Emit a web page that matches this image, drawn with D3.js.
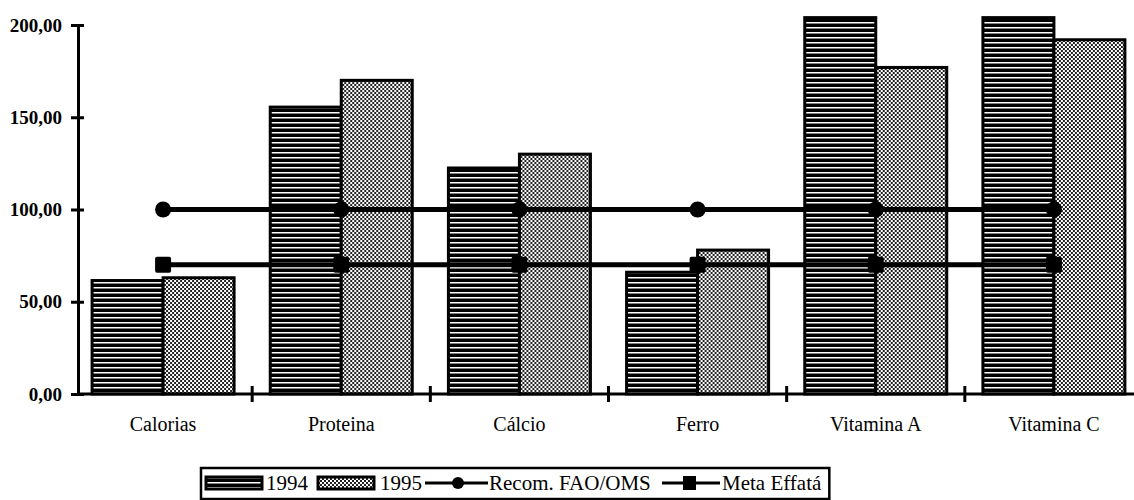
<!DOCTYPE html>
<html>
<head>
<meta charset="utf-8">
<script src="https://cdn.jsdelivr.net/npm/d3@7"></script>
<style>
  html, body { margin: 0; padding: 0; background: #fff; }
  svg { display: block; }
  text { font-family: "Liberation Serif", "Times New Roman", serif; fill: #000; }
</style>
</head>
<body>
<svg id="chart" width="1134" height="500"></svg>
<script>
const categories = ["Calorias", "Proteina", "Cálcio", "Ferro", "Vitamina A", "Vitamina C"];
const values1994 = [61.5, 155.5, 122.5, 66, 204, 204];
const values1995 = [63, 170, 130, 78, 177, 192];
const recomFAO = [100, 100, 100, 100, 100, 100];
const metaEffata = [70, 70, 70, 70, 70, 70];
const yTicks = [0, 50, 100, 150, 200];
const seriesNames = ["1994", "1995"];
const lineNames = ["Recom. FAO/OMS", "Meta Effatá"];

const SERIF = "'Liberation Serif', 'Times New Roman', serif";
const svg = d3.select("#chart");
const defs = svg.append("defs");

// Patterns
const p94 = defs.append("pattern").attr("id", "pat1994")
  .attr("patternUnits", "userSpaceOnUse").attr("width", 8).attr("height", 5);
p94.append("rect").attr("width", 8).attr("height", 5).attr("fill", "#000");
p94.append("rect").attr("y", 2).attr("width", 8).attr("height", 1.5).attr("fill", "#fff");

const p95 = defs.append("pattern").attr("id", "pat1995")
  .attr("patternUnits", "userSpaceOnUse").attr("width", 4).attr("height", 4);
p95.append("rect").attr("width", 4).attr("height", 4).attr("fill", "#fff");
p95.append("rect").attr("x", 0).attr("y", 0).attr("width", 2).attr("height", 2).attr("fill", "#222");
p95.append("rect").attr("x", 2).attr("y", 2).attr("width", 2).attr("height", 2).attr("fill", "#222");

const fills = { "1994": "url(#pat1994)", "1995": "url(#pat1995)" };

const axisX0 = 78;
const y = d3.scaleLinear().domain([0, 200]).range([394, 25]);

const x = d3.scaleBand().domain(categories).range([74, 1143])
  .paddingInner(0.203).paddingOuter(0.1015);
const xs = d3.scaleBand().domain(seriesNames).range([0, x.bandwidth()]);
const step = x.step();
const center = c => x(c) + x.bandwidth() / 2;

const data = categories.map((c, i) => ({
  cat: c,
  vals: [{ s: "1994", v: values1994[i] }, { s: "1995", v: values1995[i] }]
}));

// Bars
const groups = svg.append("g").selectAll("g").data(data).join("g")
  .attr("transform", d => `translate(${x(d.cat)},0)`);
groups.selectAll("rect").data(d => d.vals).join("rect")
  .attr("x", d => xs(d.s))
  .attr("y", d => y(d.v))
  .attr("width", xs.bandwidth())
  .attr("height", d => y(0) - y(d.v))
  .attr("fill", d => fills[d.s])
  .attr("stroke", "#000")
  .attr("stroke-width", 3);

// Y axis
const yAxis = svg.append("g").attr("transform", `translate(${axisX0},0)`)
  .call(d3.axisLeft(y).tickValues(yTicks)
    .tickFormat(d => d3.format(".2f")(d).replace(".", ","))
    .tickSizeInner(7).tickSizeOuter(0).tickPadding(9));
yAxis.attr("font-family", SERIF);
yAxis.select(".domain").attr("stroke", "#000").attr("stroke-width", 3);
yAxis.selectAll(".tick line").attr("x1", 6).attr("x2", -7).attr("stroke-width", 3);
yAxis.selectAll(".tick text")
  .attr("font-family", SERIF)
  .style("font-size", "19px").style("font-weight", "bold");

// X axis
const xAxis = svg.append("g").attr("transform", `translate(0,${y(0)})`)
  .call(d3.axisBottom(x).tickSize(0).tickPadding(23));
xAxis.attr("font-family", SERIF);
xAxis.select(".domain").remove();
xAxis.append("line").attr("x1", axisX0).attr("x2", 1134).attr("y1", 0).attr("y2", 0)
  .attr("stroke", "#000").attr("stroke-width", 3);
xAxis.selectAll(".sep").data(categories.slice(1)).join("line")
  .attr("class", "sep")
  .attr("x1", d => x(d) - step * x.paddingInner() / 2)
  .attr("x2", d => x(d) - step * x.paddingInner() / 2)
  .attr("y1", -8).attr("y2", 8)
  .attr("stroke", "#000").attr("stroke-width", 3);
xAxis.selectAll(".tick text")
  .attr("font-family", SERIF)
  .style("font-size", "20px");

// Lines
const line = d3.line().x((d, i) => center(categories[i])).y(d => y(d));
svg.append("path").datum(recomFAO).attr("d", line)
  .attr("fill", "none").attr("stroke", "#000").attr("stroke-width", 5);
svg.append("path").datum(metaEffata).attr("d", line)
  .attr("fill", "none").attr("stroke", "#000").attr("stroke-width", 5);
svg.append("g").selectAll("circle").data(recomFAO).join("circle")
  .attr("cx", (d, i) => center(categories[i])).attr("cy", d => y(d)).attr("r", 8)
  .attr("fill", "#000");
svg.append("g").selectAll("rect").data(metaEffata).join("rect")
  .attr("x", (d, i) => center(categories[i]) - 8).attr("y", d => y(d) - 8)
  .attr("width", 16).attr("height", 16).attr("rx", 2).attr("fill", "#000");

// Legend
const leg = svg.append("g").attr("font-family", SERIF);
const ly = 483;
const legFont = "21px";
const box = leg.append("rect").attr("x", 201).attr("y", 468).attr("height", 31)
  .attr("fill", "none").attr("stroke", "#000").attr("stroke-width", 2.5);

const sw = [{ s: "1994", x: 206, tx: 266 }, { s: "1995", x: 318, tx: 380 }];
sw.forEach(o => {
  leg.append("rect").attr("x", o.x).attr("y", ly - 6).attr("width", 56).attr("height", 12)
    .attr("fill", fills[o.s]).attr("stroke", "#000").attr("stroke-width", 3);
  leg.append("text").attr("x", o.tx).attr("y", ly).attr("dy", "0.35em")
    .style("font-size", legFont).text(o.s);
});
// Recom line
leg.append("line").attr("x1", 425).attr("x2", 488).attr("y1", ly).attr("y2", ly)
  .attr("stroke", "#000").attr("stroke-width", 3);
leg.append("circle").attr("cx", 458).attr("cy", ly).attr("r", 6).attr("fill", "#000");
leg.append("text").attr("x", 489).attr("y", ly).attr("dy", "0.35em")
  .style("font-size", legFont).text(lineNames[0]);
// Meta line
leg.append("line").attr("x1", 662).attr("x2", 720).attr("y1", ly).attr("y2", ly)
  .attr("stroke", "#000").attr("stroke-width", 3);
leg.append("rect").attr("x", 683).attr("y", ly - 7).attr("width", 13).attr("height", 14)
  .attr("fill", "#000");
const metaText = leg.append("text").attr("x", 722).attr("y", ly).attr("dy", "0.35em")
  .style("font-size", legFont).text(lineNames[1]);
const endX = 722 + metaText.node().getComputedTextLength() + 8;
box.attr("width", endX - 201);
</script>
</body>
</html>
